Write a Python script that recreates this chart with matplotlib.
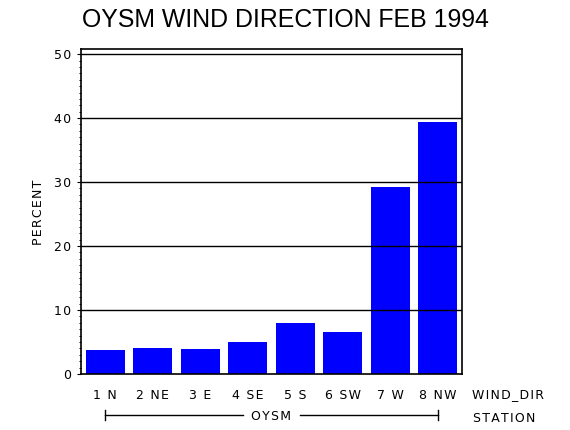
import numpy as np
import matplotlib
matplotlib.use("Agg")
import matplotlib.pyplot as plt
from matplotlib.ticker import MultipleLocator
from matplotlib.transforms import blended_transform_factory

# wind direction percentages, OYSM Feb 1994
wind_dir = ["1 N", "2 NE", "3 E", "4 SE", "5 S", "6 SW", "7 W", "8 NW"]
percent = [3.8, 4.1, 3.9, 5.0, 7.9, 6.6, 29.3, 39.4]
station = "OYSM"
title = "OYSM WIND DIRECTION FEB 1994"

HS = "\u200a"  # hair space, to mimic the wide SAS lettering
FS = 9


def spaced(s):
    return HS.join(s)


W, H = 570, 430
fig = plt.figure(figsize=(W / 100, H / 100), dpi=100)
ax = fig.add_axes([80.7 / W, 1 - 374 / H, 381 / W, (374 - 49) / H])

x = np.arange(len(wind_dir))
ax.bar(x, percent, width=0.82, color="#0000ff", zorder=1)

ax.set_xlim(-0.52, len(wind_dir) - 1 + 0.51)
ax.set_ylim(0, 50.8)

# grid lines sit on top of the bars
for v in range(10, 51, 10):
    ax.axhline(v, color="black", lw=1.0, zorder=3)

for s in ax.spines.values():
    s.set_linewidth(1.2)
    s.set_zorder(4)

ax.yaxis.set_major_locator(MultipleLocator(10))
ax.yaxis.set_minor_locator(MultipleLocator(1))
ax.tick_params(axis="y", which="major", direction="out", length=3, width=0.8,
               pad=4, labelsize=FS)
ax.tick_params(axis="y", which="minor", direction="out", length=1.6, width=0.7)
ax.set_yticks(range(0, 51, 10))
ax.set_yticklabels([spaced(str(v)) for v in range(0, 51, 10)])

ax.set_xticks(x)
ax.set_xticklabels([spaced(t) for t in wind_dir], fontsize=FS)
ax.tick_params(axis="x", length=0, pad=11)

fig.text(39 / W, 1 - 212 / H, spaced("PERCENT"), fontsize=FS, rotation=90,
         ha="center", va="center")

fig.text(471.7 / W, 1 - 395 / H, spaced("WIND_DIR"), fontsize=FS,
         ha="left", va="center")
fig.text(472.7 / W, 1 - 418 / H, spaced("STATION"), fontsize=FS,
         ha="left", va="center")

# station bracket under the categories
tr = blended_transform_factory(ax.transData, fig.transFigure)
yl = 1 - 415 / H
mid = (len(wind_dir) - 1) / 2
gap = 0.6
ax.plot([x[0], mid - gap], [yl, yl], color="black", lw=1, transform=tr,
        clip_on=False)
ax.plot([mid + gap, x[-1]], [yl, yl], color="black", lw=1, transform=tr,
        clip_on=False)
for xe in (x[0], x[-1]):
    ax.plot([xe, xe], [1 - 410 / H, 1 - 420 / H], color="black", lw=1,
            transform=tr, clip_on=False)
ax.text(mid, 1 - 417 / H, spaced(station), fontsize=FS, ha="center",
        va="center", transform=tr)

fig.text(0.5, 1 - 20 / H, title, fontsize=17.9, family="Liberation Sans",
         ha="center", va="center")

fig.savefig("out.png", dpi=100)
